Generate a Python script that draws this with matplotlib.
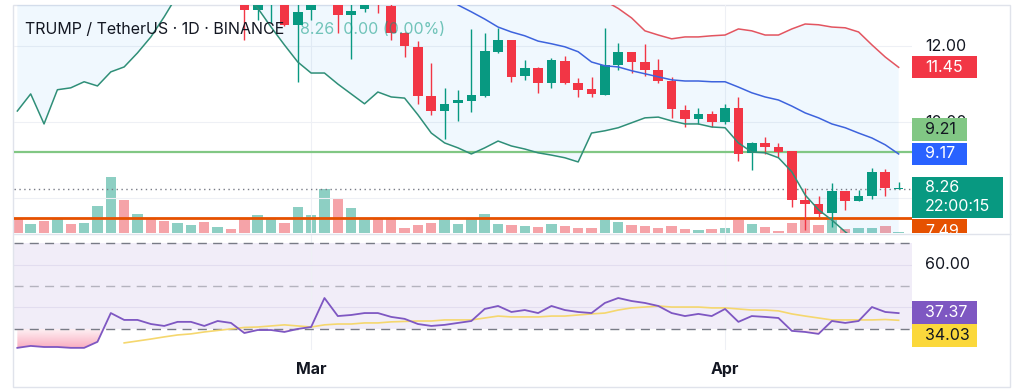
import numpy as np
import pandas as pd
import matplotlib
matplotlib.use("Agg")
import matplotlib.pyplot as plt
import matplotlib.dates as mdates
import matplotlib.transforms as mtransforms
from matplotlib.patches import Rectangle, PathPatch
from matplotlib.path import Path

plt.rcParams['font.family'] = ['Inter', 'DejaVu Sans']

# daily bars, 7 Feb -> 14 Apr
dates = pd.date_range('2025-02-07', '2025-04-14', freq='D')

# volume (arbitrary units) and direction of each day
volume = [15, 9, 12, 15, 9, 10, 27, 56, 33, 19,
          15, 12, 10, 8, 11, 6, 4, 14, 18, 15,
          10, 26, 18, 44, 35, 25, 14, 14, 14, 5,
          8, 10, 14, 9, 15, 19, 9, 8, 7, 6,
          9, 7, 5, 5, 15, 11, 8, 7, 5, 7,
          4, 3, 4, 5, 13, 9, 6, 2, 10, 15,
          8, 13, 4, 5, 5, 7, 1]
vol_dir = "rgrgrgggrg" "rrggrgrrgg" "rgggrggrrr" "rrgggggrgr" "grrrggrrrr" "rgrgrgrrrr" "rgrggrg"

# candles (only the ones that reach into the visible price range: 2 Feb.. 14 Apr)
candle_dates = dates[17:]
opens = [13.40, 12.96, 13.30, 13.50, 12.57, 12.96, 13.20, 13.15, 12.83, 12.99,
         13.30, 13.07, 12.36, 11.99, 10.70, 10.30, 10.51, 10.57, 10.70, 11.86,
         12.17, 11.22, 11.43, 11.04, 11.62, 11.04, 10.88, 10.72, 11.51, 11.86,
         11.59, 11.38, 11.09, 10.33, 10.09, 10.22, 10.01, 10.38, 9.20, 9.46,
         9.36, 9.25, 7.96, 7.86, 7.62, 8.20, 7.93, 8.07, 8.70, 8.26]
highs = [13.60, 13.40, 13.80, 13.70, 13.30, 13.40, 13.70, 13.40, 13.20, 13.30,
         13.40, 13.20, 12.38, 12.14, 11.57, 10.91, 10.86, 12.46, 12.36, 12.49,
         12.17, 11.64, 11.45, 11.70, 11.75, 11.17, 11.20, 12.49, 12.09, 11.86,
         12.07, 11.67, 11.20, 10.46, 10.38, 10.30, 10.49, 10.67, 9.49, 9.62,
         9.46, 9.25, 8.28, 8.07, 8.41, 8.20, 8.22, 8.80, 8.78, 8.43]
lows = [12.17, 12.70, 12.62, 12.55, 11.07, 12.70, 13.15, 12.36, 11.67, 12.91,
        12.88, 12.17, 11.72, 10.49, 10.20, 9.57, 10.04, 10.28, 10.67, 11.83,
        11.07, 11.12, 10.78, 10.91, 11.01, 10.67, 10.67, 10.72, 11.38, 11.30,
        11.22, 11.04, 10.12, 9.88, 9.96, 9.88, 9.96, 8.99, 8.75, 9.17,
        9.09, 7.78, 7.17, 7.51, 7.25, 7.70, 7.93, 7.99, 8.07, 8.26]
closes = [12.96, 13.25, 13.60, 12.57, 12.91, 13.20, 13.50, 12.83, 12.93, 13.20,
          13.15, 12.36, 12.01, 10.70, 10.30, 10.49, 10.59, 10.72, 11.88, 12.17,
          11.20, 11.43, 11.04, 11.64, 11.04, 10.86, 10.75, 11.51, 11.86, 11.59,
          11.38, 11.09, 10.36, 10.09, 10.22, 10.01, 10.38, 9.17, 9.46, 9.36,
          9.22, 7.96, 7.86, 7.59, 8.20, 7.93, 8.07, 8.70, 8.28, 8.26]

# Bollinger bands
bb_upper = [20.9, 20.8, 22.0, 21.5, 21.9, 21.9, 22.2, 21.9, 21.7, 21.4,
            20.8, 20.0, 19.0, 18.3, 17.7, 17.1, 16.7, 16.4, 16.2, 16.3,
            16.4, 16.4, 16.3, 16.1, 16.2, 16.2, 16.3, 15.9, 15.9, 15.9,
            16.4, 16.8, 16.9, 16.85, 16.65, 16.1, 15.5, 15.4, 15.3, 15.1,
            15.0, 14.9, 14.8, 13.5, 13.2, 13.0, 12.75, 12.41, 12.30, 12.20,
            12.25, 12.25, 12.28, 12.30, 12.46, 12.41, 12.30, 12.30, 12.46, 12.59,
            12.57, 12.51, 12.49, 12.38, 12.04, 11.72, 11.45]
bb_mid = [15.6, 15.8, 16.0, 16.2, 16.4, 16.5, 16.6, 16.6, 16.6, 16.6,
          16.5, 16.4, 16.2, 16.0, 15.8, 15.5, 15.2, 14.9, 14.6, 14.4,
          14.2, 14.0, 13.8, 13.7, 13.6, 13.5, 13.4, 13.35, 13.3, 13.25,
          13.9, 13.7, 13.45, 13.09, 12.91, 12.72, 12.51, 12.38, 12.28, 12.14,
          12.07, 11.99, 11.86, 11.59, 11.49, 11.46, 11.36, 11.28, 11.20, 11.12,
          11.09, 11.09, 11.07, 11.07, 10.93, 10.78, 10.67, 10.59, 10.43, 10.25,
          10.12, 9.96, 9.86, 9.72, 9.59, 9.41, 9.17]
bb_lower = [10.30, 10.75, 9.96, 10.86, 10.91, 11.07, 10.96, 11.33, 11.46, 11.83,
            12.25, 12.78, 13.36, 13.70, 13.90, 13.90, 13.70, 13.35, 13.01, 12.51,
            12.04, 11.59, 11.30, 11.30, 11.01, 10.75, 10.49, 10.80, 10.67, 10.64,
            10.20, 9.72, 9.46, 9.33, 9.17, 9.33, 9.51, 9.38, 9.30, 9.20,
            9.14, 9.07, 8.96, 9.72, 9.78, 9.86, 9.99, 10.12, 10.14, 10.04,
            9.96, 9.96, 9.88, 9.86, 9.46, 9.22, 9.20, 9.07, 8.70, 8.09,
            7.70, 7.43, 7.12, 6.85, 6.70, 6.60, 6.55]

# RSI and its moving average
rsi = [21.2, 22.1, 21.6, 21.6, 21.2, 21.2, 24.0, 37.4, 34.2, 34.2,
       32.3, 31.4, 33.3, 33.3, 31.4, 33.7, 32.8, 28.1, 29.5, 29.5,
       28.6, 30.0, 30.9, 44.4, 36.0, 36.5, 37.4, 37.4, 35.6, 34.7,
       32.3, 31.4, 31.9, 32.8, 33.7, 39.3, 40.7, 37.9, 38.8, 37.4,
       40.7, 38.8, 37.9, 37.4, 42.1, 44.4, 43.0, 42.1, 40.7, 37.4,
       36.0, 37.0, 36.0, 39.3, 33.3, 36.0, 35.6, 35.1, 29.1, 28.6,
       27.7, 33.7, 32.8, 33.7, 40.2, 37.9, 37.37]
rsi_ma = [None] * 8 + [
    23.5, 24.4, 25.3, 26.3, 27.2, 27.7, 28.6, 29.3, 30.0, 30.7,
    30.9, 31.4, 31.9, 31.4, 30.9, 31.9, 32.3, 32.3, 32.8, 32.8,
    33.3, 33.5, 33.7, 33.7, 34.2, 34.2, 34.2, 35.1, 36.0, 35.6,
    35.6, 35.6, 36.0, 36.0, 36.5, 37.0, 37.4, 38.8, 39.8, 40.2,
    40.7, 40.2, 40.2, 40.2, 39.8, 39.8, 39.3, 38.8, 38.8, 38.4,
    37.0, 36.0, 35.1, 34.2, 34.2, 34.2, 34.2, 34.4, 34.03]

level_green = 9.21
level_orange = 7.49
last_price = 8.26

UP = '#089981'
DOWN = '#f23645'

x = mdates.date2num(dates.to_pydatetime())
xc = mdates.date2num(candle_dates.to_pydatetime())
mar1 = mdates.date2num(pd.Timestamp('2025-03-01'))
apr1 = mdates.date2num(pd.Timestamp('2025-04-01'))

W, H = 1024, 391
fig = plt.figure(figsize=(W / 100, H / 100), dpi=100)
fig.patch.set_facecolor('white')

def rect(x0, y0, x1, y1):
    return [x0 / W, 1 - y1 / H, (x1 - x0) / W, (y1 - y0) / H]

ax_vol = fig.add_axes(rect(14, 5, 912, 233))
ax = fig.add_axes(rect(14, 5, 912, 233), sharex=ax_vol)
ax_rsi = fig.add_axes(rect(14, 234, 912, 350), sharex=ax_vol)
ax_ps = fig.add_axes(rect(912, 5, 1010, 233))
ax_rs = fig.add_axes(rect(912, 234, 1010, 350))

ax.set_zorder(ax_vol.get_zorder() + 1)
ax.patch.set_visible(False)

xmin, xmax = mar1 - 22.25, mar1 + 45.0
pmin, pmax = 7.09, 13.09
rmin, rmax = 20.2, 74.2

# ---- volume
vcol = ['#8dcfc3' if c == 'g' else '#f5a3a8' for c in vol_dir]
ax_vol.bar(x, volume, width=0.78, color=vcol, linewidth=0)
ax_vol.set_ylim(0, 228)

# ---- price pane
for v in (8, 10, 12):
    ax.axhline(v, color='#eef0f5', lw=0.8, zorder=0)
for v in (mar1, apr1):
    ax.axvline(v, color='#eef0f5', lw=0.8, zorder=0)

ax.fill_between(x, bb_lower, bb_upper, color='#2196f3', alpha=0.065, lw=0, zorder=1)
ax.axhline(level_green, color='#81c784', lw=1.6, zorder=2)
ax.axhline(level_orange, color='#e65100', lw=2, zorder=2)
ax.axhline(last_price, color='#787b86', lw=1, ls=(0, (1, 2.5)), zorder=2)

o = np.array(opens)
c = np.array(closes)
ccol = [UP if cc >= oo else DOWN for oo, cc in zip(o, c)]
ax.vlines(xc, lows, highs, colors=ccol, lw=1, zorder=3)
body = np.maximum(np.abs(c - o), 0.02)
ax.bar(xc, body, bottom=np.minimum(o, c), width=0.72, color=ccol, lw=0, zorder=4)

ax.plot(x, bb_upper, color='#e35560', lw=1.1, zorder=5)
ax.plot(x, bb_mid, color='#3d63dd', lw=1.1, zorder=5)
ax.plot(x, bb_lower, color='#2f8f78', lw=1.1, zorder=5)

ax.set_ylim(pmin, pmax)

# ---- RSI pane
ax_rsi.axhspan(30, 70, color='#7e57c2', alpha=0.1, lw=0, zorder=0)
for v in (40, 60):
    ax_rsi.axhline(v, color='#e2ddef', lw=0.8, zorder=1)
for v in (mar1, apr1):
    ax_rsi.axvline(v, color='#eef0f5', lw=0.8, zorder=0)
ax_rsi.axhline(70, color='#787b86', lw=1, ls=(0, (6.5, 4.5)), zorder=2)
ax_rsi.axhline(50, color='#787b86', lw=1, alpha=0.5, ls=(0, (6.5, 4.5)), zorder=2)
ax_rsi.axhline(30, color='#787b86', lw=1, ls=(0, (6.5, 4.5)), zorder=2)

r = np.array(rsi)
fb = ax_rsi.fill_between(x, r, 30, where=r < 30, interpolate=True, color='none', lw=0)
paths = fb.get_paths()
if paths:
    clip = PathPatch(Path.make_compound_path(*paths), transform=ax_rsi.transData,
                     facecolor='none', edgecolor='none')
    ax_rsi.add_patch(clip)
    grad = np.zeros((64, 2, 4))
    grad[..., 0] = 242 / 255
    grad[..., 1] = 54 / 255
    grad[..., 2] = 100 / 255
    grad[..., 3] = np.linspace(0.45, 0.06, 64)[:, None]
    im = ax_rsi.imshow(grad, extent=[xmin, xmax, 20, 30], origin='lower',
                       aspect='auto', zorder=1, interpolation='bilinear')
    im.set_clip_path(clip)

ax_rsi.plot(x, [np.nan if v is None else v for v in rsi_ma], color='#f5d76e', lw=1.2, zorder=3)
ax_rsi.plot(x, rsi, color='#7e57c2', lw=1.3, zorder=4)
ax_rsi.set_ylim(rmin, rmax)
ax_rsi.set_xlim(xmin, xmax)

for a in (ax, ax_vol, ax_rsi, ax_ps, ax_rs):
    a.set_xticks([])
    a.set_yticks([])
    for s in a.spines.values():
        s.set_visible(False)
ax_ps.set_xlim(0, 1)
ax_ps.set_ylim(pmin, pmax)
ax_rs.set_xlim(0, 1)
ax_rs.set_ylim(rmin, rmax)
ax_ps.patch.set_visible(False)
ax_rs.patch.set_visible(False)

# time labels
tr = mtransforms.blended_transform_factory(ax_rsi.transData, ax_rsi.transAxes)
for v, lab in ((mar1, 'Mar'), (apr1, 'Apr')):
    ax_rsi.text(v, -0.172, lab, transform=tr, ha='center', va='center',
                fontsize=11.5, fontweight='bold', color='#131722', clip_on=False)

# price scale tags
FS = 11.5
def tag(axs, y, h, w, fc, lines, tc):
    axs.add_patch(Rectangle((0, y - h / 2), w, h, transform=axs.get_yaxis_transform(),
                            facecolor=fc, edgecolor='none', clip_on=True, zorder=3))
    for ty, s in lines:
        axs.text(0.133, ty, s, va='center', ha='left', fontsize=FS, color=tc,
                 clip_on=True, zorder=4)

ax_ps.text(0.133, 12.0, '12.00', va='center', fontsize=FS, color='#131722', zorder=1)
# the 10.00 tick sits mostly behind the 9.21 tag, as in the screenshot
ax_ps.text(0.133, 10.0, '10.00', va='center', fontsize=FS, color='#131722', zorder=1,
           clip_on=True)
tag(ax_ps, 11.45, 0.58, 0.663, DOWN, [(11.45, '11.45')], 'white')
tag(ax_ps, level_green + 0.61, 0.60, 0.561, '#81c784', [(level_green + 0.61, '9.21')], '#131722')
tag(ax_ps, 9.17, 0.60, 0.561, '#2962ff', [(9.17, '9.17')], 'white')
tag(ax_ps, 8.025, 1.07, 0.929, UP, [(8.28, '8.26'), (7.78, '22:00:15')], 'white')
tag(ax_ps, 7.14, 0.62, 0.561, '#e65100', [(7.14, '7.49')], 'white')

ax_rs.text(0.133, 60, '60.00', va='center', fontsize=FS, color='#131722')
tag(ax_rs, 37.6, 10.4, 0.663, '#7e57c2', [(37.6, '37.37')], 'white')
tag(ax_rs, 27.0, 10.4, 0.663, '#fbd83b', [(27.0, '34.03')], '#131722')

# legend text
fig.text(25 / W, 1 - 30 / H, 'TRUMP / TetherUS · 1D · BINANCE', fontsize=11.5,
         color='#131722', va='center', ha='left', zorder=10)
fig.text(300 / W, 1 - 30 / H, '8.26  0.00 (0.00%)', fontsize=11.5,
         color=UP, alpha=0.55, va='center', ha='left', zorder=10)

# frame and pane separator
fig.add_artist(plt.Rectangle((13 / W, 1 - 387 / H), 997 / W, 382 / H, transform=fig.transFigure,
                             fill=False, edgecolor='#e0e3eb', lw=1))
fig.add_artist(plt.Line2D([14 / W, 1010 / W], [1 - 233.5 / H] * 2, transform=fig.transFigure,
                          color='#e0e3eb', lw=1))

fig.savefig('out.png', dpi=100)
